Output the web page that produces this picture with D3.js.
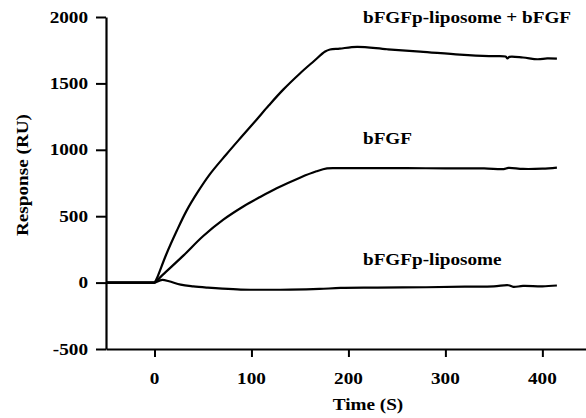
<!DOCTYPE html>
<html>
<head>
<meta charset="utf-8">
<script src="https://cdn.jsdelivr.net/npm/d3@7"></script>
<style>
  body { margin: 0; background: #fff; }
</style>
</head>
<body>
<svg id="chart"></svg>
<script>
// Time axis ticks and response ticks
var xTicks = [0, 100, 200, 300, 400];
var yTicks = [-500, 0, 500, 1000, 1500, 2000];

// bFGFp-liposome + bFGF
var comboTime = [-50, -1, 0, 2, 12, 23, 33, 44, 57, 74, 90, 105, 118, 133, 150, 164, 176, 181, 191, 209, 240, 274, 315, 345, 362, 364, 366, 380, 395, 405, 415];
var comboResp = [0, 0, 0, 25, 210, 390, 540, 675, 815, 965, 1100, 1225, 1335, 1455, 1575, 1665, 1740, 1755, 1762, 1775, 1757, 1740, 1717, 1705, 1702, 1688, 1700, 1695, 1682, 1688, 1686];

// bFGF
var bfgfTime = [-50, -1, 0, 9, 30, 50, 71, 92, 109, 126, 150, 167, 178, 190, 220, 260, 300, 340, 360, 365, 380, 400, 415];
var bfgfResp = [0, 0, 0, 62, 205, 349, 474, 575, 645, 710, 790, 838, 860, 862, 862, 862, 860, 860, 855, 864, 856, 858, 866];

// bFGFp-liposome
var lipoTime = [-50, -1, 0, 8, 15, 27, 40, 55, 70, 89, 110, 140, 170, 192, 230, 280, 320, 350, 365, 370, 380, 400, 415];
var lipoResp = [0, 0, 0, 20, 10, -15, -28, -38, -46, -53, -54, -53, -48, -40, -38, -35, -30, -28, -20, -32, -25, -28, -22];

var labels = ['bFGFp-liposome + bFGF', 'bFGF', 'bFGFp-liposome'];
var labelT = [215, 215, 215];
var labelV = [1958, 1040, 135];

(function() {
  var svg = d3.select('#chart').attr('width', 586).attr('height', 418);
  var serif = "'Liberation Serif', 'Times New Roman', Times, 'DejaVu Serif', serif";
  var stretch = 'scale(1.2,1)';

  var x = d3.scaleLinear().domain([-50, 445]).range([106, 586]);
  var y = d3.scaleLinear().domain([-500, 2000]).range([349, 17]);

  // little helper for the wide bold serif text
  function label(g) {
    return g.style('font-family', serif)
        .style('font-weight', 'bold')
        .style('font-size', '16px')
        .attr('fill', '#000');
  }

  // axes, labels drawn by hand below
  var yAxis = d3.axisLeft(y).tickValues(yTicks).tickSize(10).tickSizeOuter(0).tickFormat('');
  var xAxis = d3.axisBottom(x).tickValues(xTicks).tickSize(8).tickSizeOuter(0).tickFormat('');

  svg.append('g').attr('transform', 'translate(106,0)').call(yAxis);
  svg.append('g').attr('transform', 'translate(0,349)').call(xAxis);
  svg.selectAll('.domain').attr('stroke-width', 2.2);
  svg.selectAll('.tick line').attr('stroke-width', 2);

  svg.selectAll('.ylab').data(yTicks).enter()
      .append('text')
      .attr('class', 'ylab')
      .attr('transform', function (d) { return 'translate(88,' + (y(d) + 5.5) + ') ' + stretch; })
      .attr('text-anchor', 'end')
      .call(label)
      .text(function (d) { return d; });

  svg.selectAll('.xlab').data(xTicks).enter()
      .append('text')
      .attr('class', 'xlab')
      .attr('transform', function (d) { return 'translate(' + x(d) + ',384) ' + stretch; })
      .attr('text-anchor', 'middle')
      .call(label)
      .text(function (d) { return d; });

  svg.append('text')
      .attr('transform', 'translate(368,410) ' + stretch)
      .attr('text-anchor', 'middle')
      .call(label)
      .text('Time (S)');

  svg.append('text')
      .attr('transform', 'translate(28,175) rotate(-90) ' + stretch)
      .attr('text-anchor', 'middle')
      .call(label)
      .text('Response (RU)');

  // curves
  var line = d3.line()
      .curve(d3.curveCatmullRom.alpha(0.5))
      .x(function (d) { return x(d[0]); })
      .y(function (d) { return y(d[1]); });

  [[comboTime, comboResp], [bfgfTime, bfgfResp], [lipoTime, lipoResp]].forEach(function (s) {
    var pts = s[0].map(function (t, i) { return [t, s[1][i]]; });
    svg.append('path')
        .attr('d', line(pts))
        .attr('fill', 'none')
        .attr('stroke', '#000')
        .attr('stroke-width', 2.2)
        .attr('stroke-linejoin', 'round');
  });

  svg.selectAll('.slab').data(labels).enter()
      .append('text')
      .attr('class', 'slab')
      .attr('transform', function (d, i) { return 'translate(' + x(labelT[i]) + ',' + y(labelV[i]) + ') ' + stretch; })
      .call(label)
      .text(function (d) { return d; });
})();
</script>
</body>
</html>
